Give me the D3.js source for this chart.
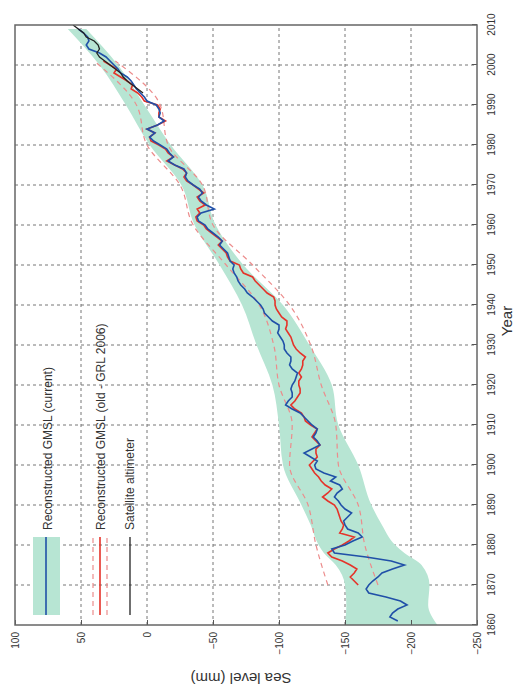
<!DOCTYPE html>
<html>
<head>
<meta charset="utf-8">
<script src="https://cdn.jsdelivr.net/npm/d3@7"></script>
<style>
  body { margin: 0; background: #fff; }
  svg { display: block; font-family: "Liberation Sans", Arial, sans-serif; }
</style>
</head>
<body>
<div id="chart"></div>
<script>
// reconstructed GMSL (current), 1861-2009
var blueStart = 1861;
var blueValues = [
  -190, -184, -186, -190, -197, -192, -181, -168, -166, -168,
  -171, -175, -178, -186, -195, -185, -166, -142, -140, -150,
  -156, -163, -160, -152, -150, -149, -152, -155, -150, -147,
  -145, -142, -144, -148, -146, -139, -143, -134, -128, -127,
  -129, -124, -119, -125, -131, -129, -126, -128, -129, -125,
  -122, -119, -116, -110, -105, -107, -110, -110, -109, -110,
  -112, -113, -114, -110, -108, -109, -109, -106, -104, -104,
  -103, -101, -99, -100, -100, -95, -92, -89, -88, -86,
  -83, -80, -76, -74, -71, -69, -68, -66, -65, -66,
  -63, -62, -61, -58, -55, -57, -54, -50, -46, -44,
  -39, -38, -41, -51, -45, -41, -39, -42, -40, -35,
  -31, -29, -30, -28, -21, -16, -20, -17, -15, -10,
  -5, -2, -6, 0, -8, -13, -9, -10, -9, -7,
  0, 2, 5, 8, 10, 12, 15, 20, 22, 25,
  28, 31, 36, 44, 46, 44, 45, 48, 52
];

// reconstructed GMSL (old - GRL 2006), 1870-2001
var redStart = 1870;
var redValues = [
  -160, -157, -154, -157, -159, -154, -148, -140, -137, -142,
  -148, -153, -157, -146, -148, -149, -147, -146, -145, -144,
  -142, -137, -133, -137, -140, -135, -132, -130, -127, -125,
  -123, -126, -129, -128, -128, -131, -128, -125, -127, -129,
  -124, -120, -119, -117, -112, -109, -112, -114, -116, -116,
  -115, -115, -117, -115, -117, -118, -118, -120, -116, -113,
  -111, -110, -109, -107, -105, -106, -106, -102, -100, -98,
  -97, -97, -96, -91, -88, -85, -82, -80, -73, -71,
  -70, -63, -61, -60, -57, -54, -57, -53, -49, -45,
  -43, -38, -37, -40, -38, -44, -40, -38, -43, -39,
  -35, -30, -28, -30, -27, -21, -15, -20, -16, -14,
  -9, -3, -2, -6, 0, -8, -14, -9, -9, -10,
  -8, 2, 4, 7, 12, 11, 15, 20, 25, 23,
  28, 33
];

// satellite altimeter, 1993-2010
var satYears = [1993, 1994, 1995, 1996, 1997, 1998, 1999, 2000, 2001,
  2002, 2003, 2004, 2005, 2006, 2007, 2008, 2009, 2010];
var satValues = [3, 7, 11, 15, 18, 20, 24, 28, 32, 36, 38, 36, 37, 40, 46, 48, 52, 56];

// uncertainty of the current reconstruction
var bandYears = [1860, 1865, 1870, 1875, 1878, 1880, 1885, 1890, 1900, 1910,
  1920, 1930, 1940, 1950, 1960, 1970, 1980, 1990, 2000, 2009];
var bandUpper = [-150, -151, -150, -143, -134, -130, -124, -117, -103, -100,
  -95, -83, -72, -55, -36, -26, -2, 16, 36, 60];
var bandLower = [-220, -213, -214, -208, -195, -188, -178, -170, -160, -145,
  -140, -123, -103, -73, -52, -42, -18, 2, 22, 46];

// uncertainty of the old reconstruction
var oldYears = [1870, 1880, 1890, 1900, 1910, 1920, 1930, 1940, 1950, 1960, 1970, 1980, 1990, 2001];
var oldUpper = [-137, -128, -122, -108, -110, -100, -96, -85, -60, -35, -25, 0, 8, 40];
var oldLower = [-175, -165, -160, -145, -143, -132, -124, -108, -80, -50, -42, -16, -10, 24];

var yearTicks = d3.range(1860, 2011, 10);
var levelTicks = [-250, -200, -150, -100, -50, 0, 50, 100];

var legendLabels = [
  'Reconstructed GMSL (current)',
  'Reconstructed GMSL (old - GRL 2006)',
  'Satellite altimeter'
];

(function() {
  var W = 528, H = 691;
  var svg = d3.select('#chart').append('svg')
    .attr('width', W)
    .attr('height', H);

  // the whole figure is drawn landscape and turned a quarter left
  var g = svg.append('g')
    .attr('transform', 'translate(0,' + H + ') rotate(-90)');

  var mLeft = 66, mTop = 15, pw = 600, ph = 462;
  var x = d3.scaleLinear().domain([1860, 2010]).range([mLeft, mLeft + pw]);
  var y = d3.scaleLinear().domain([-250, 100]).range([mTop + ph, mTop]);

  var blue = blueValues.map(function(v, i) { return [blueStart + i, v]; });
  var red = redValues.map(function(v, i) { return [redStart + i, v]; });
  var sat = satYears.map(function(yr, i) { return [yr, satValues[i]]; });
  var band = bandYears.map(function(yr, i) { return [yr, bandLower[i], bandUpper[i]]; });

  g.append('clipPath').attr('id', 'plotclip')
    .append('rect').attr('x', mLeft).attr('y', mTop).attr('width', pw).attr('height', ph);

  // grid
  var grid = g.append('g').attr('stroke', '#777').attr('stroke-width', 1)
    .attr('stroke-dasharray', '3,3');
  grid.selectAll('.gx').data(yearTicks.slice(1, -1)).enter().append('line')
    .attr('x1', function(d) { return x(d); }).attr('x2', function(d) { return x(d); })
    .attr('y1', mTop).attr('y2', mTop + ph);
  grid.selectAll('.gy').data(levelTicks.slice(1, -1)).enter().append('line')
    .attr('y1', function(d) { return y(d); }).attr('y2', function(d) { return y(d); })
    .attr('x1', mLeft).attr('x2', mLeft + pw);

  var plot = g.append('g').attr('clip-path', 'url(#plotclip)');

  plot.append('path')
    .datum(band)
    .attr('fill', '#b7e5d3')
    .attr('d', d3.area()
      .x(function(d) { return x(d[0]); })
      .y0(function(d) { return y(d[1]); })
      .y1(function(d) { return y(d[2]); })
      .curve(d3.curveMonotoneX));

  var smooth = d3.line()
    .x(function(d) { return x(d[0]); })
    .y(function(d) { return y(d[1]); })
    .curve(d3.curveMonotoneX);
  var line = d3.line()
    .x(function(d) { return x(d[0]); })
    .y(function(d) { return y(d[1]); });

  [oldUpper, oldLower].forEach(function(arr) {
    plot.append('path')
      .datum(oldYears.map(function(yr, i) { return [yr, arr[i]]; }))
      .attr('fill', 'none')
      .attr('stroke', '#ec8c8c')
      .attr('stroke-width', 1.2)
      .attr('stroke-dasharray', '5,4')
      .attr('d', smooth);
  });

  plot.append('path').datum(red)
    .attr('fill', 'none').attr('stroke', '#e5332a').attr('stroke-width', 1.6)
    .attr('d', line);
  plot.append('path').datum(blue)
    .attr('fill', 'none').attr('stroke', '#2050a8').attr('stroke-width', 1.6)
    .attr('d', line);
  plot.append('path').datum(sat)
    .attr('fill', 'none').attr('stroke', '#222').attr('stroke-width', 1.3)
    .attr('d', line);

  // axes
  var xAxis = g.append('g')
    .attr('transform', 'translate(0,' + (mTop + ph) + ')')
    .call(d3.axisBottom(x).tickValues(yearTicks).tickFormat(d3.format('d'))
      .tickSize(-5).tickPadding(11));
  var yAxis = g.append('g')
    .attr('transform', 'translate(' + mLeft + ',0)')
    .call(d3.axisLeft(y).tickValues(levelTicks).tickSize(-5).tickPadding(7));
  [xAxis, yAxis].forEach(function(a) {
    a.select('.domain').remove();
    a.selectAll('line').attr('stroke', '#555');
    a.selectAll('text').attr('fill', '#333').attr('font-size', 10)
      .attr('font-family', '"Liberation Sans", Arial, sans-serif');
  });

  g.append('rect')
    .attr('x', mLeft).attr('y', mTop).attr('width', pw).attr('height', ph)
    .attr('fill', 'none').attr('stroke', '#666').attr('stroke-width', 1.5);

  g.append('text')
    .attr('x', 370).attr('y', mTop + ph + 35)
    .attr('text-anchor', 'middle').attr('font-size', 15).attr('fill', '#333')
    .text('Year');
  g.append('text')
    .attr('transform', 'translate(18,' + (mTop + ph / 2 - 5) + ') rotate(-90)')
    .attr('text-anchor', 'middle').attr('font-size', 15).attr('fill', '#333')
    .text('Sea level (mm)');

  // legend
  var lg = g.append('g');
  var lx0 = 76, lx1 = 154;
  lg.append('rect').attr('x', lx0).attr('y', 33).attr('width', lx1 - lx0).attr('height', 27)
    .attr('fill', '#b7e5d3');
  lg.append('line').attr('x1', lx0).attr('x2', lx1).attr('y1', 46).attr('y2', 46)
    .attr('stroke', '#2050a8').attr('stroke-width', 1.6);
  [93, 107].forEach(function(yy) {
    lg.append('line').attr('x1', lx0).attr('x2', lx1).attr('y1', yy).attr('y2', yy)
      .attr('stroke', '#ec8c8c').attr('stroke-width', 1.2).attr('stroke-dasharray', '5,4');
  });
  lg.append('line').attr('x1', lx0).attr('x2', lx1).attr('y1', 100).attr('y2', 100)
    .attr('stroke', '#e5332a').attr('stroke-width', 1.6);
  lg.append('line').attr('x1', lx0).attr('x2', lx1).attr('y1', 130).attr('y2', 130)
    .attr('stroke', '#222').attr('stroke-width', 1.3);
  lg.selectAll('.lt').data(legendLabels).enter().append('text')
    .attr('x', 161)
    .attr('y', function(d, i) { return [48, 101, 130][i]; })
    .attr('dy', '0.35em')
    .attr('font-size', 12).attr('fill', '#333')
    .text(function(d) { return d; });
})();
</script>
</body>
</html>
